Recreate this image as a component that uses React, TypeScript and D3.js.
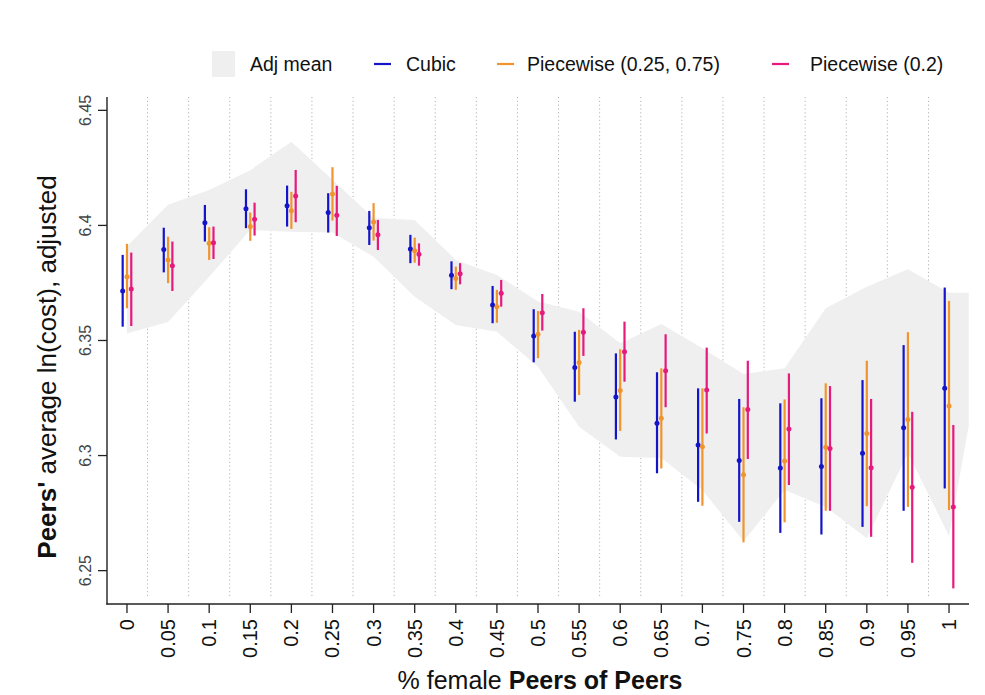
import React from "react";
import * as d3 from "d3";

const xTicks = [0, 0.05, 0.1, 0.15, 0.2, 0.25, 0.3, 0.35, 0.4, 0.45, 0.5, 0.55, 0.6, 0.65, 0.7, 0.75, 0.8, 0.85, 0.9, 0.95, 1];
const xTickLabels = ["0", "0.05", "0.1", "0.15", "0.2", "0.25", "0.3", "0.35", "0.4", "0.45", "0.5", "0.55", "0.6", "0.65", "0.7", "0.75", "0.8", "0.85", "0.9", "0.95", "1"];
const yTicks = [6.25, 6.3, 6.35, 6.4, 6.45];
const yTickLabels = ["6.25", "6.3", "6.35", "6.4", "6.45"];

const cubicMid = [6.3715, 6.3895, 6.4012, 6.4072, 6.4085, 6.4056, 6.399, 6.3898, 6.3783, 6.3654, 6.352, 6.3383, 6.3254, 6.314, 6.3046, 6.2979, 6.2946, 6.2953, 6.301, 6.3121, 6.3292];
const cubicLo = [6.356, 6.3796, 6.393, 6.3988, 6.3995, 6.3969, 6.3915, 6.3836, 6.3723, 6.3575, 6.3405, 6.3234, 6.307, 6.2923, 6.2799, 6.2712, 6.2664, 6.2657, 6.269, 6.276, 6.2857];
const cubicHi = [6.3872, 6.399, 6.4089, 6.4157, 6.4173, 6.414, 6.4063, 6.3959, 6.3844, 6.3737, 6.3636, 6.3538, 6.3444, 6.3362, 6.3292, 6.3246, 6.3227, 6.3249, 6.3328, 6.348, 6.373];

const pw2575Mid = [6.3777, 6.385, 6.3922, 6.3995, 6.4064, 6.4137, 6.4015, 6.389, 6.3769, 6.3647, 6.3527, 6.3404, 6.3283, 6.3162, 6.3038, 6.2917, 6.2976, 6.3036, 6.3096, 6.3157, 6.3215];
const pw2575Lo = [6.364, 6.3749, 6.385, 6.3933, 6.3985, 6.4021, 6.3934, 6.3838, 6.372, 6.3577, 6.3423, 6.3263, 6.3107, 6.2944, 6.2782, 6.2623, 6.271, 6.276, 6.278, 6.2777, 6.2763];
const pw2575Hi = [6.392, 6.3951, 6.3992, 6.4056, 6.4146, 6.4253, 6.4097, 6.3947, 6.3821, 6.372, 6.3628, 6.3546, 6.3462, 6.3379, 6.3292, 6.321, 6.3244, 6.3314, 6.3412, 6.3536, 6.3672];

const pw20Mid = [6.3724, 6.3825, 6.3925, 6.4027, 6.4128, 6.4044, 6.3959, 6.3875, 6.379, 6.3705, 6.3621, 6.3536, 6.3451, 6.3369, 6.3285, 6.32, 6.3115, 6.3031, 6.2947, 6.2862, 6.2777];
const pw20Lo = [6.3563, 6.3715, 6.3854, 6.3956, 6.4014, 6.3954, 6.3893, 6.3825, 6.3744, 6.3647, 6.3543, 6.3433, 6.3321, 6.321, 6.3096, 6.2985, 6.2872, 6.276, 6.2647, 6.2534, 6.2423];
const pw20Hi = [6.3882, 6.393, 6.3995, 6.4099, 6.4241, 6.4172, 6.4024, 6.3922, 6.3836, 6.3763, 6.3702, 6.364, 6.3582, 6.3527, 6.3469, 6.3412, 6.3357, 6.3302, 6.3246, 6.319, 6.3133];

const bandX = [0, 0.05, 0.1, 0.15, 0.2, 0.25, 0.3, 0.35, 0.4, 0.45, 0.5, 0.55, 0.6, 0.65, 0.7, 0.75, 0.8, 0.85, 0.9, 0.95, 1, 1.024];
const bandUpper = [6.391, 6.409, 6.4154, 6.424, 6.4364, 6.4198, 6.4032, 6.4024, 6.385, 6.3785, 6.3669, 6.3625, 6.3488, 6.3572, 6.3466, 6.3354, 6.3379, 6.364, 6.3734, 6.381, 6.3707, 6.3707];
const bandLower = [6.353, 6.358, 6.3777, 6.398, 6.3973, 6.3969, 6.3864, 6.369, 6.3567, 6.3538, 6.3386, 6.3125, 6.2995, 6.2989, 6.285, 6.2628, 6.285, 6.2777, 6.2641, 6.3011, 6.265, 6.313];

const seriesNames = ["Cubic", "Piecewise (0.25, 0.75)", "Piecewise (0.2)"];
const seriesColors = ["#1414c8", "#f0952e", "#e6197d"];
const bandColor = "#efefef";

const FONT = "'Liberation Sans', Arial, Helvetica, sans-serif";

export default function App() {
  const W = 985, H = 695;
  const x = d3.scaleLinear().domain([-0.0243, 1.0243]).range([107, 969]);
  const y = d3.scaleLinear().domain([6.2355, 6.4558]).range([604, 97]);

  const series = [
    { name: seriesNames[0], color: seriesColors[0], mid: cubicMid, lo: cubicLo, hi: cubicHi, off: -4.3 },
    { name: seriesNames[1], color: seriesColors[1], mid: pw2575Mid, lo: pw2575Lo, hi: pw2575Hi, off: 0 },
    { name: seriesNames[2], color: seriesColors[2], mid: pw20Mid, lo: pw20Lo, hi: pw20Hi, off: 4.3 },
  ];

  const area = d3
    .area<number>()
    .x((_, i) => x(bandX[i]))
    .y0((_, i) => y(bandLower[i]))
    .y1((_, i) => y(bandUpper[i]));
  const bandPath = area(bandX) || "";

  const gridX = xTicks.slice(0, -1).map((v, i) => (v + xTicks[i + 1]) / 2);

  const legendItems = [
    { label: "Adj mean", x: 212, textX: 250, type: "rect", color: bandColor },
    { label: seriesNames[0], x: 374, textX: 406, type: "line", color: seriesColors[0] },
    { label: seriesNames[1], x: 497, textX: 527, type: "line", color: seriesColors[1] },
    { label: seriesNames[2], x: 772, textX: 810, type: "line", color: seriesColors[2] },
  ];

  return (
    <svg
      width={W}
      height={H}
      viewBox={`0 0 ${W} ${H}`}
      style={{ position: "absolute", left: 0, top: 0, display: "block", background: "#fff" }}
      fontFamily={FONT}
    >
      <rect x={0} y={0} width={W} height={H} fill="#fff" />
      {gridX.map((g, i) => (
        <line
          key={"g" + i}
          x1={x(g)}
          x2={x(g)}
          y1={97}
          y2={598}
          stroke="#b4b4b4"
          strokeWidth={1}
          strokeDasharray="1.2,2.6"
        />
      ))}
      <path d={bandPath} fill={bandColor} stroke="none" />
      {series.map((s) =>
        xTicks.map((v, i) => (
          <g key={s.name + i}>
            <line
              x1={x(v) + s.off}
              x2={x(v) + s.off}
              y1={y(s.lo[i])}
              y2={y(s.hi[i])}
              stroke={s.color}
              strokeWidth={2.2}
            />
            <circle cx={x(v) + s.off} cy={y(s.mid[i])} r={2.5} fill={s.color} />
          </g>
        ))
      )}
      <line x1={107} x2={107} y1={97} y2={604.5} stroke="#222" strokeWidth={1.4} />
      <line x1={106.3} x2={969} y1={604} y2={604} stroke="#222" strokeWidth={1.4} />
      {yTicks.map((t, i) => (
        <g key={"yt" + i}>
          <line x1={98} x2={107} y1={y(t)} y2={y(t)} stroke="#222" strokeWidth={1.3} />
          <text
            transform={`translate(91,${y(t)}) rotate(-90)`}
            textAnchor="middle"
            fontSize={16}
            fill="#444"
          >
            {yTickLabels[i]}
          </text>
        </g>
      ))}
      {xTicks.map((t, i) => (
        <g key={"xt" + i}>
          <line x1={x(t)} x2={x(t)} y1={604} y2={613} stroke="#222" strokeWidth={1.3} />
          <text
            transform={`translate(${x(t) + 7},619) rotate(-90)`}
            textAnchor="end"
            fontSize={20}
            fill="#111"
          >
            {xTickLabels[i]}
          </text>
        </g>
      ))}
      <text x={540} y={689} textAnchor="middle" fontSize={25} fill="#111">
        <tspan>% female </tspan>
        <tspan fontWeight="bold">Peers of Peers</tspan>
      </text>
      <text transform="translate(56,367) rotate(-90)" textAnchor="middle" fontSize={26} fill="#111">
        <tspan fontWeight="bold">Peers'</tspan>
        <tspan> average ln(cost), adjusted</tspan>
      </text>
      {legendItems.map((l, i) => (
        <g key={"lg" + i}>
          {l.type === "rect" ? (
            <rect x={l.x} y={51} width={23} height={26} fill={l.color} />
          ) : (
            <line x1={l.x} x2={l.x + 17} y1={64} y2={64} stroke={l.color} strokeWidth={2.2} />
          )}
          <text x={l.textX} y={71} fontSize={19.5} fill="#111">
            {l.label}
          </text>
        </g>
      ))}
    </svg>
  );
}
